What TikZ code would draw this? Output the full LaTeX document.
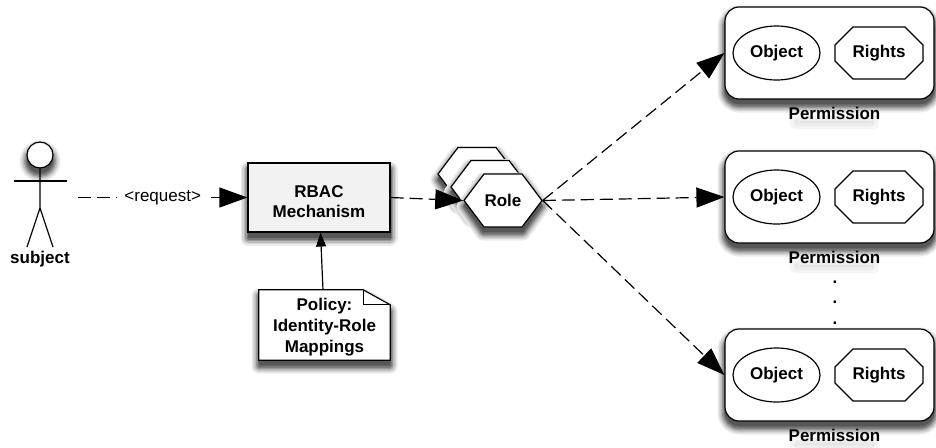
\documentclass[tikz,border=0pt]{standalone}
\usepackage{fontspec}
\setmainfont{Liberation Sans}
\usepackage{tikz}
\usetikzlibrary{arrows.meta, calc, shapes.geometric, shapes.misc, shapes.symbols}
\tikzset{
    >={Triangle[length=28pt, width=20pt]},
    every node/.style={font=\bfseries\fontsize{17}{20}\selectfont, inner sep=0pt, align=center},
    edgeline/.style={line width=1.2pt, black},
    dashline/.style={edgeline, ->, dash pattern=on 13pt off 6pt},
    rolehex/.style={draw, edgeline, fill=white, signal, signal to=east and west,
        signal pointer angle=106, minimum width=78pt, minimum height=53pt},
    permbox/.style={draw, edgeline, fill=white, rounded corners=14pt,
        minimum width=209pt, minimum height=92pt},
    objectshape/.style={draw, edgeline, ellipse, minimum width=87pt, minimum height=54pt},
    rightsshape/.style={draw, edgeline, chamfered rectangle, chamfered rectangle xsep=10pt,
        chamfered rectangle ysep=10pt, minimum width=88pt, minimum height=52pt}
}
\newcommand{\softShadow}[2]{
    \foreach \wid/\tone/\drop in {15/8/6, 12/16/6, 9/27/6, 6/40/6, 3/54/6, .5/66/5}
        \draw[draw=black!\tone, fill=black!\tone, line width=\wid pt, line join=round,
            shift={(#1)}, yshift=-\drop pt] #2;
}
\newcommand{\hexShadow}[1]{
    \softShadow{#1}{(-39, 0) -- (-20, -26.5) -- (20, -26.5) -- (39, 0) -- (20, 26.5) -- (-20, 26.5) -- cycle}
}
\newcommand{\permGroup}[3]{
    \softShadow{829.5, #2}{[rounded corners=14pt] (-104.5, -46) rectangle (104.5, 46)}
    \foreach \grow/\tone in {0/4, -3/7, -6/10}
        \fill[black!\tone, rounded corners=5pt] (790-\grow, #3+2-\grow) rectangle (879+\grow, #3+16+\grow);
    \node[permbox] (#1) at (829.5, #2) {};
    \node[objectshape] (#1obj) at (776.5, #2) {Object};
    \node[rightsshape] (#1rights) at (879, #2) {Rights};
    \node (#1label) at (834.5, #3) {Permission};
}

\begin{document}
\begin{tikzpicture}[x=1pt, y=-1pt]
    \useasboundingbox (0, 0) rectangle (936, 447);
    % subject
    \softShadow{40, 155}{(0, 0) circle (13)}
    \node[circle, draw, edgeline, fill=white, minimum size=26pt] (head) at (40, 155) {};
    \coordinate (hip) at (40, 208);
    \draw[edgeline] (head) -- (hip) -- (27, 247);
    \draw[edgeline] (hip) -- (53, 247);
    \draw[edgeline] (14, 181) -- (67, 181);
    \node (subject) at (40, 259) {subject};
    \coordinate (subjectout) at (78, 197.5);
    % mechanism and policy
    \softShadow{319, 197.5}{(-71, -34.5) rectangle (71, 34.5)}
    \node[draw, edgeline, fill=black!5, minimum width=142pt, minimum height=69pt] (rbac) at (319, 197.5) {};
    \node (rbactext) at (319, 202) {RBAC\\Mechanism};
    \softShadow{324.5, 325}{(-65.5, -35) -- (38.5, -35) -- (65.5, -20) -- (65.5, 35) -- (-65.5, 35) -- cycle}
    \node[minimum width=131pt, minimum height=70pt] (policy) at (324.5, 325) {};
    \draw[edgeline, fill=white] (policy.north west) -- ($(policy.north east)+(-27, 0)$)
        -- ($(policy.north east)+(0, 15)$) -- (policy.south east) -- (policy.south west) -- cycle;
    \draw[edgeline] ($(policy.north east)+(-27, 0)$) -- ($(policy.north east)+(-27, 15)$)
        -- ($(policy.north east)+(0, 15)$);
    \node (policytext) at (324.5, 327) {Policy:\\[1pt]Identity-Role\\[1pt]Mappings};
    % roles
    \hexShadow{477, 174}
    \node[rolehex] (roleA) at (477, 174) {Role};
    \hexShadow{490, 187}
    \node[rolehex] (roleB) at (490, 187) {Role};
    \hexShadow{503, 200.5}
    \node[rolehex] (roleC) at (503, 200.5) {Role};
    % permissions
    \permGroup{permA}{53}{113}
    \permGroup{permB}{197}{257}
    \permGroup{permC}{375}{435}
    \node (dotA) at (835, 282) {.};
    \node (dotB) at (835, 302) {.};
    \node (dotC) at (835, 323) {.};
    % connectors
    \draw[dashline] (subjectout) -- (rbac.west)
        node[midway, fill=white, inner xsep=7pt, inner ysep=3pt, font=\mdseries\fontsize{17}{20}\selectfont] (request) {<request>};
    \draw[dashline] (rbac.east) -- (roleC.west);
    \draw[edgeline, -{Triangle[length=14pt, width=10pt]}] (policy) -- (rbac);
    \draw[dashline] (roleC.east) -- (permA.west);
    \draw[dashline] (roleC.east) -- (permB.west);
    \draw[dashline] (roleC.east) -- (permC.west);
\end{tikzpicture}
\end{document}
